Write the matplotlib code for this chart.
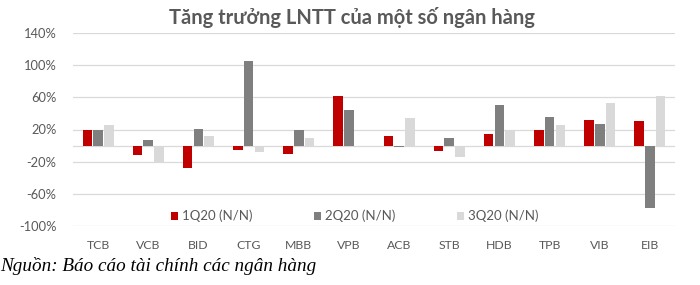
import matplotlib
matplotlib.use("Agg")
import matplotlib.pyplot as plt
import numpy as np

banks = ["TCB", "VCB", "BID", "CTG", "MBB", "VPB", "ACB", "STB", "HDB", "TPB", "VIB", "EIB"]
q1 = [19, -12, -28, -6, -10, 62, 12.5, -7, 14, 19, 32, 31]
q2 = [19, 7, 21, 105, 20, 44, -1.5, 10, 50, 35, 27, -78]
q3 = [25, -22, 12.5, -8, 10, -1.5, 34, -14, 20, 26, 53, 62]
series_names = ["1Q20 (N/N)", "2Q20 (N/N)", "3Q20 (N/N)"]
yticks = [-100, -60, -20, 20, 60, 100, 140]

colors = ["#C00000", "#7F7F7F", "#D9D9D9"]
txt = "#595959"
font = ["Lato", "DejaVu Sans"]

fig = plt.figure(figsize=(7, 2.85), dpi=100)
ax = fig.add_axes([73/700, 1-226/285, 602/700, 193/285])

x = np.arange(len(banks))
w = 0.19
step = 0.215
handles = []
for i, (vals, c) in enumerate(zip([q1, q2, q3], colors)):
    h = ax.bar(x + (i-1)*step, vals, width=w, color=c, zorder=3)
    handles.append(h)

ax.set_xlim(-0.5, len(banks)-0.5)
ax.set_ylim(-100, 140)
ax.set_yticks(yticks)
ax.set_yticklabels([f"{v}%" for v in yticks], fontsize=9.3, color=txt, family=font)
ax.set_xticks(x)
ax.set_xticklabels(banks, fontsize=8.8, color=txt, family=font)
ax.tick_params(axis="both", length=0)
ax.tick_params(axis="y", pad=12)
ax.tick_params(axis="x", pad=10)
for s in ax.spines.values():
    s.set_visible(False)
ax.grid(axis="y", color="#D9D9D9", linewidth=0.9, zorder=0)
ax.axhline(0, color="#D9D9D9", linewidth=0.9, zorder=1)

leg = ax.legend(handles, series_names, loc="center", bbox_to_anchor=((355-73)/602, 1-(216-33)/193),
                ncol=3, frameon=False, handlelength=0.55, handleheight=0.55, columnspacing=4.65,
                handletextpad=0.3, prop={"family": font, "size": 9.5})
for t in leg.get_texts():
    t.set_color(txt)

fig.text(0.503, 1-18/285, "Tăng trưởng LNTT của một số ngân hàng", ha="center", va="center",
         fontsize=14.5, fontweight="bold", color=txt, family=font)
fig.text(0.0, 1-266/285, "Nguồn: Báo cáo tài chính các ngân hàng", ha="left", va="center",
         fontsize=13.8, style="italic", color="black", family=["Liberation Serif", "DejaVu Serif"])

fig.savefig("out.png", dpi=100)
